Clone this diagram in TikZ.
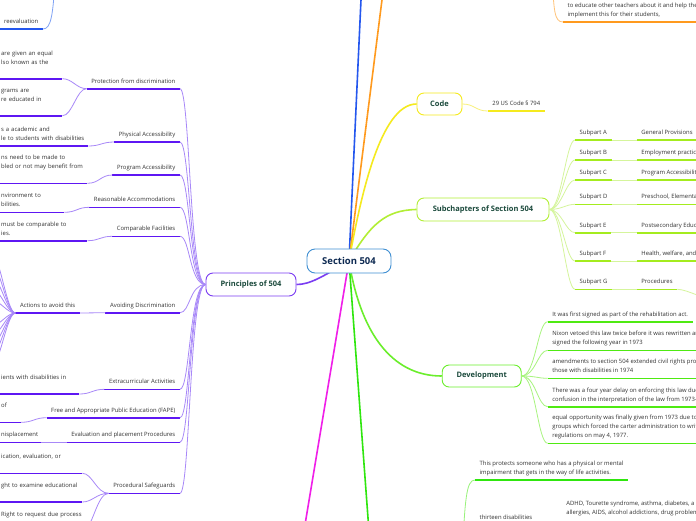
\documentclass[tikz,border=0pt]{standalone}
\usepackage{fontspec}
\setmainfont{Open Sans}
\usetikzlibrary{backgrounds}
\definecolor{txtgray}{HTML}{333333}
\definecolor{brtxt}{HTML}{1B4A3C}
\definecolor{ctrtxt}{HTML}{0E2A52}
\definecolor{ctrbd}{HTML}{3F8FD2}
\definecolor{pur}{HTML}{7A3CF2}
\definecolor{purul}{HTML}{5E17F3}
\definecolor{purlt}{HTML}{A888F8}
\definecolor{yel}{HTML}{F5EA1E}
\definecolor{yellt}{HTML}{F8F07A}
\definecolor{lime}{HTML}{B2EE35}
\definecolor{limeul}{HTML}{A4EC1E}
\definecolor{limelt}{HTML}{D5F59C}
\definecolor{dgrn}{HTML}{6BEE2C}
\definecolor{dgrnul}{HTML}{4FEA12}
\definecolor{dgrnlt}{HTML}{A8F47F}
\definecolor{bgrn}{HTML}{2FE60E}
\definecolor{bgrnlt}{HTML}{98F27A}
\definecolor{mag}{HTML}{F01EE8}
\definecolor{blu}{HTML}{2457EE}
\definecolor{blult}{HTML}{7FA2F5}
\definecolor{org}{HTML}{FF9A1E}
\definecolor{orglt}{HTML}{FFC47A}
\newcommand\cutln[1]{\mbox{#1}}
\begin{document}
\begin{tikzpicture}[x=1pt,y=-1pt,
  txt/.style={font=\fontsize{5.9}{9}\selectfont, text=txtgray},
  leaf/.style={txt, anchor=south west, align=left, inner xsep=4.5pt, inner ysep=2.6pt, execute at end node=\strut},
  leafr/.style={leaf, anchor=south east},
  leftcut/.style={leaf, text width=#1},
  branch/.style={draw, fill=white, rounded corners=7pt, line width=0.9pt, font=\fontsize{7.5}{9}\selectfont\bfseries, text=brtxt, inner sep=0pt},
  ul/.style={line width=1.6pt},
  con/.style={line width=0.8pt},
  mainc/.style={line width=1.6pt},
]
\useasboundingbox (0,0) rectangle (696,520);
\clip (0,0) rectangle (696,520);

% ---------- central and branch nodes
\node[draw=ctrbd, fill=white, rounded corners=8pt, line width=0.9pt, minimum width=84pt, minimum height=24pt, inner sep=0pt, font=\fontsize{9.5}{11}\selectfont\bfseries, text=ctrtxt] (c) at (349,261) {Section 504};
\node[branch, draw=pur, minimum width=90pt, minimum height=23pt] (pr) at (251,284.5) {Principles of 504};
\node[branch, draw=yel, minimum width=45pt, minimum height=22pt] (code) at (439.5,104) {Code};
\node[branch, draw=lime, minimum width=132pt, minimum height=23pt] (sub) at (483,209.5) {Subchapters of Section 504};
\node[branch, draw=dgrn, minimum width=79pt, minimum height=22pt] (dev) at (481.7,376) {Development};

% off-screen ends
\coordinate (blueEnd) at (361.9,-20);
\coordinate (orgEnd) at (384.5,-20);
\coordinate (magEnd) at (301.6,545);
\coordinate (grnEnd) at (370,545);
\coordinate (reevP) at (55,-20);
\coordinate (ornP) at (552,-25);
\coordinate (botP) at (462,560);
\coordinate (procX) at (715,300);

% ---------- Principles children
\node[leafr] (prot) at (180,88.7) {Protection from discrimination};
\node[leafr] (phys) at (180,142) {Physical Accessibility};
\node[leafr] (prog) at (180,175) {Program Accessibility};
\node[leafr] (reas) at (180,207.3) {Reasonable Accommodations};
\node[leafr] (comp) at (180,236.3) {Comparable Facilities};
\node[leafr] (avoid) at (180,312.7) {Avoiding Discrimination};
\node[leafr] (extra) at (180,389.3) {Extracurricular Activities};
\node[leafr] (fape) at (180,417.7) {Free and Appropriate Public Education (FAPE)};
\node[leafr] (evalp) at (180,442.3) {Evaluation and placement Procedures};
\node[leafr] (psafe) at (180,493.3) {Procedural Safeguards};
\node[leafr] (act) at (80,313) {Actions to avoid this};

% grandchildren running into the left edge
\node[leftcut=56.5] (prot1) at (-3.5,78.7) {\cutln{are given an equal}\\\cutln{lso known as the}\\};
\node[leftcut=56.5] (prot2) at (-3.5,115.7) {\cutln{grams are}\\\cutln{re educated in}\\};
\node[leftcut=82.5] (phys1) at (-3.5,146) {\cutln{s a academic and}\\\cutln{le to students with disabilities}};
\node[leftcut=81.5] (prog1) at (-3.5,183.3) {\cutln{ns need to be made to}\\\cutln{bled or not may benefit from}\\};
\node[leftcut=58.5] (reas1) at (-3.5,212.3) {\cutln{nvironment to}\\\cutln{bilities.}};
\node[leftcut=81.5] (comp1) at (-3.5,240.7) {\cutln{must be comparable to}\\\cutln{ies.}};
\node[leftcut=73.5] (extra1) at (-3.5,394) {\cutln{ients with disabilities in}\\};
\node[leftcut=15.2] (fape1) at (-3.5,422.3) {\cutln{of}\\};
\node[leftcut=35.2] (eval1) at (-3.5,442.3) {\cutln{nisplacement}};
\node[leftcut=76.5] (ps1) at (-3.5,473.3) {\cutln{ication, evaluation, or}\\};
\node[leftcut=76.5] (ps2) at (-3.5,502) {\cutln{ght to examine educational}\\};
\node[leftcut=76.5] (ps3) at (-3.5,531) {\cutln{Right to request due process}\\};

% Actions children (off-screen)
\foreach \i/\yy in {1/258,2/268,3/279,4/290,5/301,6/325,7/334,8/343,9/352,10/362}
  \coordinate (av\i) at (-6,\yy);

% reevaluation
\node[leafr] (reev) at (43,29) {reevaluation};

% ---------- Code
\node[leaf] (cd1) at (487.7,111) {29 US Code § 794};

% ---------- Subchapters
\node[leaf] (sA) at (575,140) {Subpart A};
\node[leaf] (sB) at (575,160) {Subpart B};
\node[leaf] (sC) at (575,180) {Subpart C};
\node[leaf] (sD) at (575,204.3) {Subpart D};
\node[leaf] (sE) at (575,232.7) {Subpart E};
\node[leaf] (sF) at (575,261) {Subpart F};
\node[leaf] (sG) at (575,289.3) {Subpart G};
\node[leaf] (gA) at (636.7,140) {General Provisions};
\node[leaf] (gB) at (636.7,160) {Employment practices};
\node[leaf] (gC) at (636.7,180) {Program Accessibility};
\node[leaf] (gD) at (636.7,204.3) {Preschool, Elementary, and Secondary Education};
\node[leaf] (gE) at (636.7,232.7) {Postsecondary Education};
\node[leaf] (gF) at (636.7,261) {Health, welfare, and social services};
\node[leaf] (gG) at (636.7,289.3) {Procedures};

% ---------- Development
\node[leaf] (d1) at (547.7,321.7) {It was first signed as part of the rehabilitation act.};
\node[leaf] (d2) at (547.7,350.3) {Nixon vetoed this law twice before it was rewritten and\\signed the following year in 1973};
\node[leaf] (d3) at (547.7,378.3) {amendments to section 504 extended civil rights protections to\\those with disabilities in 1974};
\node[leaf] (d4) at (547.7,406.7) {There was a four year delay on enforcing this law due to\\confusion in the interpretation of the law from 1973-1977};
\node[leaf] (d5) at (547.7,443.3) {equal opportunity was finally given from 1973 due to advocacy\\groups which forced the carter administration to write\\regulations on may 4, 1977.};

% ---------- top right (orange)
\node[leaf] (orn) at (563,22) {to educate other teachers about it and help them\\implement this for their students,};

% ---------- bottom (green)
\node[leaf] (bp) at (475,480) {This protects someone who has a physical or mental\\impairment that gets in the way of life activities.};
\node[leaf] (thir) at (475,525) {thirteen disabilities};
\node[leaf] (adhd) at (561.7,529.3) {ADHD, Tourette syndrome, asthma, diabetes, a\\allergies, AIDS, alcohol addictions, drug problems\\};

% ---------- underlines
\foreach \n in {prot,phys,prog,reas,comp,avoid,extra,fape,evalp,psafe,act,prot1,prot2,phys1,prog1,reas1,comp1,extra1,fape1,eval1,ps1,ps2,ps3}
  \draw[ul, purul] (\n.south west) -- (\n.south east);
\draw[ul, blu] (reev.south west) -- (reev.south east);
\draw[ul, yel] (cd1.south west) -- (cd1.south east);
\foreach \n in {sA,sB,sC,sD,sE,sF,sG,gA,gB,gC,gD,gE,gF,gG}
  \draw[ul, limeul] (\n.south west) -- (\n.south east);
\foreach \n in {d1,d2,d3,d4,d5}
  \draw[ul, dgrnul] (\n.south west) -- (\n.south east);
\draw[ul, org] (orn.south west) -- (orn.south east);
\foreach \n in {bp,thir,adhd}
  \draw[ul, bgrn] (\n.south west) -- (\n.south east);

% ---------- connectors
\begin{scope}[on background layer]
  \fill[white] (0,0) rectangle (696,520);
  \draw[mainc, blu] (c.center) -- (blueEnd);
  \draw[mainc, org] (c.center) -- (orgEnd);
  \draw[mainc, mag] (c.center) -- (magEnd);
  \draw[mainc, bgrn] (c.center) -- (grnEnd);
  \draw[mainc, yel] (c.center) .. controls (360,200) and (380,104) .. (code.west);
  \draw[mainc, lime] (c.center) .. controls (370,225) and (385,210) .. (sub.west);
  \draw[mainc, dgrn] (c.center) .. controls (360,330) and (390,376) .. (dev.west);
  \draw[mainc, pur] (c.center) .. controls (322,277) and (310,284.5) .. (pr.east);
\end{scope}

\foreach \n in {prot,phys,prog,reas,comp,avoid,extra,fape,evalp,psafe}
  \draw[con, purlt] (pr.west) .. controls +(-16,0) and +(10,0) .. (\n.south east);
\foreach \n in {prot1,prot2}
  \draw[con, purlt] (prot.south west) .. controls +(-10,0) and +(10,0) .. (\n.south east);
\draw[con, purlt] (phys.south west) .. controls +(-12,0) and +(12,0) .. (phys1.south east);
\draw[con, purlt] (prog.south west) .. controls +(-12,0) and +(12,0) .. (prog1.south east);
\draw[con, purlt] (reas.south west) .. controls +(-12,0) and +(12,0) .. (reas1.south east);
\draw[con, purlt] (comp.south west) .. controls +(-12,0) and +(12,0) .. (comp1.south east);
\draw[con, purlt] (avoid.south west) -- (act.south east);
\draw[con, purlt] (extra.south west) .. controls +(-12,0) and +(12,0) .. (extra1.south east);
\draw[con, purlt] (fape.south west) .. controls +(-12,0) and +(12,0) .. (fape1.south east);
\draw[con, purlt] (evalp.south west) -- (eval1.south east);
\foreach \n in {ps1,ps2,ps3}
  \draw[con, purlt] (psafe.south west) .. controls +(-12,0) and +(10,0) .. (\n.south east);
\foreach \i in {1,...,10}
  \draw[con, purlt] (act.south west) .. controls +(-8,0) and +(6,0) .. (av\i);

\draw[con, blult] (reev.south east) .. controls +(8,0) and (53,15) .. (reevP);
\draw[con, yellt] (code.east) .. controls +(12,0) and +(-12,0) .. (cd1.south west);
\foreach \n in {sA,sB,sC,sD,sE,sF,sG}
  \draw[con, limelt] (sub.east) .. controls +(12,0) and +(-9,0) .. (\n.south west);
\foreach \a/\b in {sA/gA,sB/gB,sC/gC,sD/gD,sE/gE,sF/gF,sG/gG}
  \draw[con, limelt] (\a.south east) -- (\b.south west);
\draw[con, limelt] (gG.south east) .. controls +(10,0) and +(-10,0) .. (procX);
\foreach \n in {d1,d2,d3,d4,d5}
  \draw[con, dgrnlt] (dev.east) .. controls +(14,0) and +(-10,0) .. (\n.south west);
\draw[con, orglt] (ornP) .. controls (554,10) and (554,22) .. (orn.south west);
\draw[con, bgrnlt] (bp.south west) .. controls (466,480) and (465,500) .. (botP);
\draw[con, bgrnlt] (botP) .. controls (466,525) and (468,525) .. (thir.south west);
\draw[con, bgrnlt] (thir.south east) .. controls +(12,0) and +(-12,0) .. (adhd.south west);
\end{tikzpicture}
\end{document}
